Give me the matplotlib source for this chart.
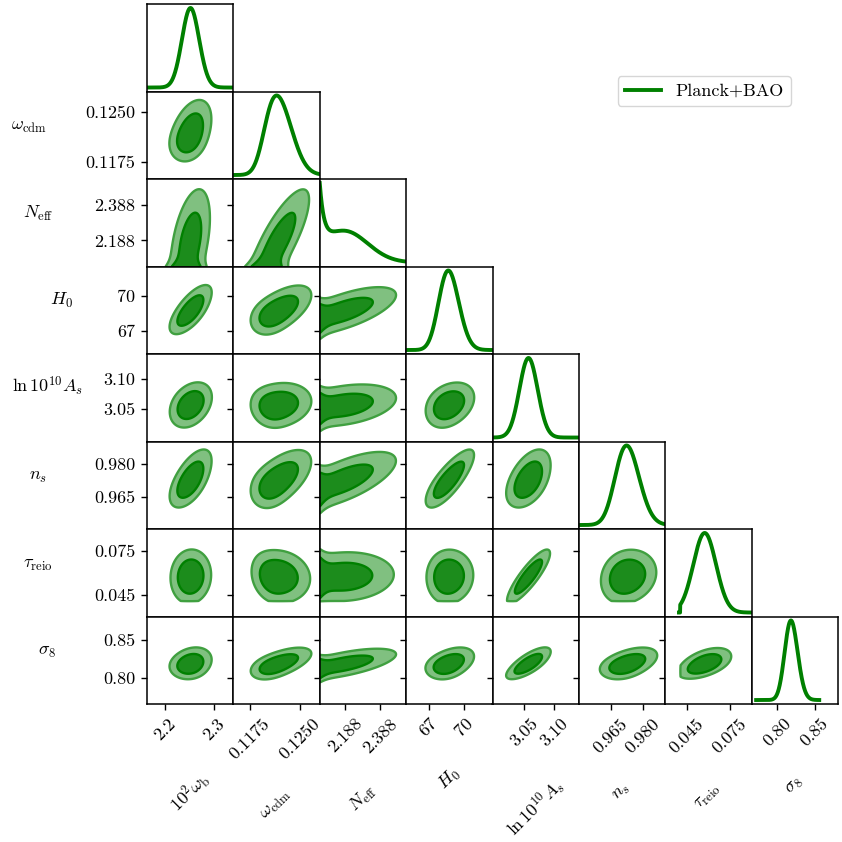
import numpy as np
import matplotlib
matplotlib.use("Agg")
import matplotlib.pyplot as plt
from matplotlib.lines import Line2D

plt.rcParams['font.family'] = 'serif'
plt.rcParams['font.serif'] = ['cmr10', 'DejaVu Serif']
plt.rcParams['mathtext.fontset'] = 'cm'
plt.rcParams['axes.formatter.use_mathtext'] = True

# --- data ----------------------------------------------------------------
labels = [r'$10^2\omega_{\rm b}$', r'$\omega_{\rm cdm}$', r'$N_{\rm eff}$', r'$H_0$',
          r'$\ln 10^{10}A_s$', r'$n_s$', r'$\tau_{\rm reio}$', r'$\sigma_8$']
ticks = [[2.2, 2.3], [0.1175, 0.1250], [2.188, 2.388], [67, 70],
         [3.05, 3.10], [0.965, 0.980], [0.045, 0.075], [0.80, 0.85]]
tick_labels = [['2.2', '2.3'], ['0.1175', '0.1250'], ['2.188', '2.388'], ['67', '70'],
               ['3.05', '3.10'], ['0.965', '0.980'], ['0.045', '0.075'], ['0.80', '0.85']]
limits = [(2.163, 2.339), (0.1150, 0.1280), (2.040, 2.537), (65.07, 72.45),
          (2.996, 3.142), (0.9502, 0.9905), (0.0302, 0.0900), (0.766, 0.881)]

# N_eff posterior: sharp pile-up at the lower prior edge plus a broad shoulder
neff_bound = 2.040
neff_spike = [0.76, 0.025]          # amplitude, decay scale
neff_bump = [0.394, 2.18, 0.135]    # amplitude, centre, width

# the other parameters (order: wb, wcdm, H0, lnAs, ns, tau, s8)
other_idx = [0, 1, 3, 4, 5, 6, 7]
post_mean = [2.252, 0.1219, 68.75, 3.057, 0.973, 0.0575, 0.819]
post_sigma = [0.0175, 0.0019, 0.85, 0.015, 0.0055, 0.0078, 0.0085]
neff_slope = [0.06, 0.0125, 4.5, 0.04, 0.03, 0.005, 0.043]
post_corr = [
    [1.00, 0.38, 0.70, 0.35, 0.60, 0.05, 0.20],
    [0.38, 1.00, 0.55, 0.10, 0.55, -0.10, 0.60],
    [0.70, 0.55, 1.00, 0.30, 0.80, 0.05, 0.40],
    [0.35, 0.10, 0.30, 1.00, 0.50, 0.92, 0.80],
    [0.60, 0.55, 0.80, 0.50, 1.00, 0.15, 0.45],
    [0.05, -0.10, 0.05, 0.92, 0.15, 1.00, 0.50],
    [0.20, 0.60, 0.40, 0.80, 0.45, 0.50, 1.00],
]
tau_min = 0.0405
s8_curve_range = (0.772, 0.856)

# --- posterior model ---------------------------------------------------------
def neff_pdf(n):
    f = (neff_spike[0] * np.exp(-(n - neff_bound) / neff_spike[1])
         + neff_bump[0] * np.exp(-0.5 * ((n - neff_bump[1]) / neff_bump[2]) ** 2))
    return np.where(n >= neff_bound, f, 0.0)


nk = np.linspace(neff_bound, neff_bound + 0.9, 200)
wk = neff_pdf(nk)
wk = wk / wk.sum()
n_mean = np.sum(wk * nk)
n_sd = np.sqrt(np.sum(wk * (nk - n_mean) ** 2))

sig = np.array(post_sigma)
slope = np.array(neff_slope)
# what is left once the N_eff trend is taken out, worked in correlation units
rho_n = np.clip(slope * n_sd / sig, -0.95, 0.95)
r = np.array(post_corr) - np.outer(rho_n, rho_n)
ev, evec = np.linalg.eigh(r)
ev = np.clip(ev, 0.02, None)
r = evec @ np.diag(ev) @ evec.T
cov_res = r * np.outer(sig, sig)
intercept = np.array(post_mean) - slope * (n_mean - neff_bound)


def pos(p):
    return other_idx.index(p)


def cut(p, v):
    return (v >= tau_min) if p == 6 else 1.0


def pdf1d(p, x):
    if p == 2:
        return neff_pdf(x)
    k = pos(p)
    mu = intercept[k] + slope[k] * (nk - neff_bound)
    s = np.sqrt(cov_res[k, k])
    d = np.exp(-0.5 * ((x[:, None] - mu[None, :]) / s) ** 2) @ wk
    return d * cut(p, x)


def pdf_neff_pair(p, N, V):
    k = pos(p)
    s = np.sqrt(cov_res[k, k])
    mu = intercept[k] + slope[k] * (N - neff_bound)
    return neff_pdf(N) * np.exp(-0.5 * ((V - mu) / s) ** 2) * cut(p, V)


def pdf2d(px, py, X, Y):
    if px == 2:
        return pdf_neff_pair(py, X, Y)
    if py == 2:
        return pdf_neff_pair(px, Y, X)
    kx, ky = pos(px), pos(py)
    c = cov_res[np.ix_([kx, ky], [kx, ky])]
    ci = np.linalg.inv(c)
    z = np.zeros_like(X)
    for n, w in zip(nk, wk):
        dx = X - (intercept[kx] + slope[kx] * (n - neff_bound))
        dy = Y - (intercept[ky] + slope[ky] * (n - neff_bound))
        q = ci[0, 0] * dx * dx + 2 * ci[0, 1] * dx * dy + ci[1, 1] * dy * dy
        z += w * np.exp(-0.5 * q)
    return z * cut(px, X) * cut(py, Y)


def hpd_levels(z):
    zs = np.sort(z.ravel())[::-1]
    c = np.cumsum(zs)
    c /= c[-1]
    return zs[np.searchsorted(c, 0.95)], zs[np.searchsorted(c, 0.68)]


# --- figure -------------------------------------------------------------------
fig = plt.figure(figsize=(8.42, 8.42), dpi=100)
L, T = 147 / 842, 1 - 4 / 842
W, H = 691 / 842 / 8, 700 / 842 / 8
npar = len(labels)

for i in range(npar):
    for j in range(i + 1):
        ax = fig.add_axes([L + j * W, T - (i + 1) * H, W, H])
        for sp in ax.spines.values():
            sp.set_linewidth(1.1)
        ax.tick_params(direction='out', length=4.5, width=1.0, labelsize=13, pad=4)
        if i == j:
            lo, hi = limits[i]
            if i == 6:
                lo = tau_min - 0.0008
            if i == 7:
                lo, hi = s8_curve_range
            x = np.linspace(lo, hi, 400)
            y = pdf1d(i, x)
            ax.plot(x, y / y.max(), color='green', lw=2.8)
            ax.set_xlim(limits[i])
            ax.set_ylim(-0.05, 1.05)
            ax.set_yticks([])
        else:
            gx = np.linspace(*limits[j], 170)
            gy = np.linspace(*limits[i], 170)
            X, Y = np.meshgrid(gx, gy)
            z = pdf2d(j, i, X, Y)
            l95, l68 = hpd_levels(z)
            ax.contourf(X, Y, z, levels=[l95, l68, z.max() * 1.01],
                        colors=['#80c080', '#1c8c1c'])
            ax.contour(X, Y, z, levels=[l95], colors='#40a040', linewidths=1.7)
            ax.contour(X, Y, z, levels=[l68], colors='#008000', linewidths=1.7)
            ax.set_xlim(limits[j])
            ax.set_ylim(limits[i])
            ax.set_yticks(ticks[i])
            if j == 0:
                ax.set_yticklabels(tick_labels[i])
                ax.set_ylabel(labels[i], rotation=0, fontsize=13, labelpad=40)
            else:
                ax.set_yticklabels([])
        if i == npar - 1:
            ax.set_xticks(ticks[j])
            ax.set_xticklabels(tick_labels[j], rotation=45)
            ax.set_xlabel(labels[j], rotation=45, fontsize=13, labelpad=18)
        else:
            ax.set_xticks([])

handle = Line2D([], [], color='green', lw=2.8)
fig.legend([handle], ['Planck+BAO'], loc='upper right',
           bbox_to_anchor=(791 / 842, 1 - 76 / 842), fontsize=13, borderaxespad=0)

fig.savefig('out.png', dpi=100)
